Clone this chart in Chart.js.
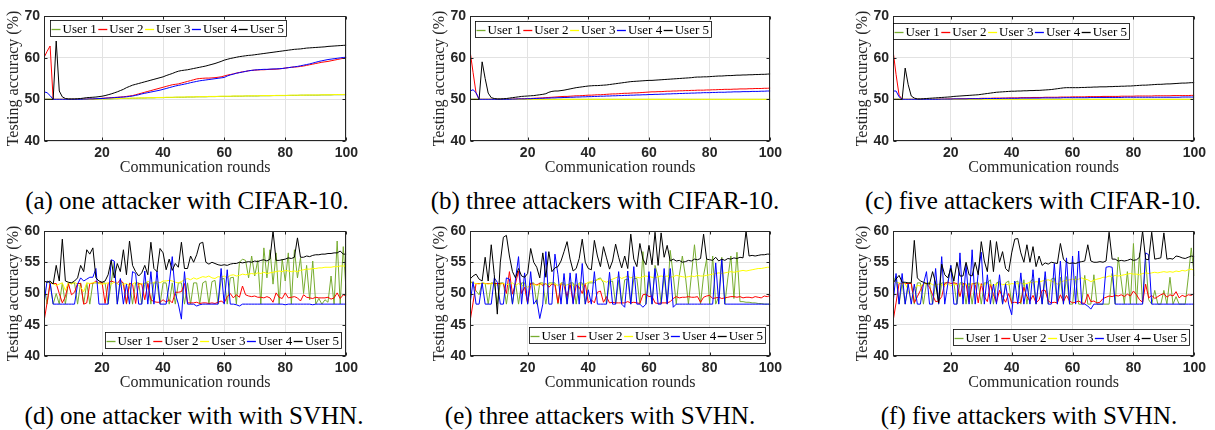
<!DOCTYPE html>
<html>
<head>
<meta charset="utf-8">
<script src="https://cdn.jsdelivr.net/npm/chart.js@4.4.1/dist/chart.umd.min.js"></script>
<style>
  body { margin: 0; background: #fff; width: 1215px; height: 430px; position: relative; overflow: hidden; }
  canvas { position: absolute; }
  .cap { position: absolute; font-family: 'Liberation Serif', serif; font-size: 25px; line-height: 25px; white-space: nowrap; transform: translateX(-50%); color: #000; }
</style>
</head>
<body>
<canvas id="chA" width="362" height="180" style="left:0;top:0"></canvas>
<canvas id="chB" width="360" height="180" style="left:426px;top:0"></canvas>
<canvas id="chC" width="361" height="180" style="left:849px;top:0"></canvas>
<canvas id="chD" width="362" height="180" style="left:0;top:215px"></canvas>
<canvas id="chE" width="360" height="180" style="left:426px;top:215px"></canvas>
<canvas id="chF" width="361" height="180" style="left:849px;top:215px"></canvas>
<div class="cap" style="left:187px;top:188px">(a) one attacker with CIFAR-10.</div>
<div class="cap" style="left:605px;top:188px">(b) three attackers with CIFAR-10.</div>
<div class="cap" style="left:1033px;top:188px">(c) five attackers with CIFAR-10.</div>
<div class="cap" style="left:194px;top:403px">(d) one attacker with with SVHN.</div>
<div class="cap" style="left:600px;top:403px">(e) three attackers with SVHN.</div>
<div class="cap" style="left:1029px;top:403px">(f) five attackers with SVHN.</div>
<script>
// communication rounds 1..100
const rounds = Array.from({ length: 100 }, (_, i) => i + 1);
const roundTicks = [20, 40, 60, 80, 100];
const cifarTicks = [40, 50, 60, 70];
const svhnTicks = [40, 45, 50, 55, 60];
const userNames = ['User 1', 'User 2', 'User 3', 'User 4', 'User 5'];
const userColors = ['#77ac30', '#ff0000', '#ffff00', '#0000ff', '#000000'];

// (a) one attacker, CIFAR-10
const cifarOneU1 = [
  50,50,50,50,50,50,50,50,50,50,
  50,50,50,50,50,50,50,50.05,50.05,50.1,
  50.1,50.1,50.1,50.15,50.15,50.2,50.2,50.2,50.2,50.25,
  50.25,50.3,50.3,50.3,50.35,50.35,50.35,50.4,50.4,50.4,
  50.45,50.45,50.45,50.5,50.5,50.5,50.5,50.55,50.55,50.55,
  50.6,50.6,50.6,50.6,50.65,50.65,50.65,50.7,50.7,50.7,
  50.7,50.7,50.75,50.75,50.75,50.75,50.8,50.8,50.8,50.8,
  50.8,50.85,50.85,50.85,50.85,50.9,50.9,50.9,50.9,50.9,
  50.95,50.95,50.95,50.95,51,51,51,51,51,51,
  51,51.05,51.05,51.05,51.05,51.1,51.1,51.1,51.1,51.1];
const cifarOneU2 = [
  60,61.5,62.8,50,50,50,50,50,50,50,
  50,50,50,50.05,50.05,50.1,50.1,50.15,50.2,50.25,
  50.3,50.35,50.4,50.45,50.5,50.55,50.6,50.7,50.8,50.9,
  51.1,51.3,51.5,51.7,51.9,52.1,52.3,52.5,52.7,52.9,
  53.1,53.3,53.5,53.6,53.7,53.9,54.1,54.3,54.5,54.7,
  54.9,55,55.05,55.1,55.1,55.15,55.2,55.3,55.4,55.6,
  55.8,55.95,56.1,56.3,56.45,56.6,56.7,56.85,56.95,57,
  57.05,57.1,57.1,57.15,57.2,57.2,57.25,57.3,57.4,57.5,
  57.6,57.7,57.75,57.8,57.9,58,58.15,58.3,58.45,58.6,
  58.75,58.9,59,59.1,59.25,59.4,59.55,59.7,59.85,60];
const cifarOneU3 = [
  50,50,50,50,50,50,50,50,50,50,
  50,50,50,50,50,50,50.05,50.05,50.1,50.1,
  50.1,50.15,50.15,50.2,50.2,50.2,50.25,50.25,50.3,50.3,
  50.3,50.35,50.35,50.35,50.4,50.4,50.4,50.45,50.45,50.45,
  50.5,50.5,50.5,50.5,50.55,50.55,50.55,50.6,50.6,50.6,
  50.6,50.65,50.65,50.65,50.7,50.7,50.7,50.7,50.75,50.75,
  50.75,50.75,50.8,50.8,50.8,50.8,50.8,50.85,50.85,50.85,
  50.85,50.9,50.9,50.9,50.9,50.9,50.95,50.95,50.95,50.95,
  50.95,51,51,51,51,51,51.05,51.05,51.05,51.05,
  51.05,51.1,51.1,51.1,51.1,51.15,51.15,51.15,51.15,51.2];
const cifarOneU4 = [
  51.8,51.6,50.9,50,50,50,50,50,50,50,
  50,50,50,50.05,50.05,50.1,50.1,50.15,50.2,50.2,
  50.25,50.3,50.35,50.4,50.45,50.5,50.55,50.6,50.7,50.8,
  50.95,51.1,51.3,51.45,51.6,51.75,51.9,52.05,52.2,52.4,
  52.6,52.8,53,53.2,53.35,53.5,53.65,53.8,54,54.15,
  54.3,54.45,54.55,54.65,54.75,54.85,54.95,55.05,55.15,55.25,
  55.6,55.85,56.05,56.25,56.4,56.55,56.7,56.85,56.95,57.05,
  57.1,57.15,57.2,57.2,57.25,57.3,57.3,57.35,57.4,57.5,
  57.6,57.7,57.8,57.9,58.05,58.2,58.35,58.5,58.7,58.9,
  59.1,59.25,59.4,59.55,59.65,59.75,59.85,59.95,60.05,60.1];
const cifarOneU5 = [
  50,50,50,50,64,52,50.6,50.2,50.1,50.1,
  50.1,50.15,50.2,50.3,50.4,50.45,50.5,50.55,50.65,50.75,
  50.9,51.1,51.3,51.55,51.8,52.1,52.4,52.8,53.1,53.4,
  53.6,53.8,54,54.2,54.4,54.6,54.8,55,55.2,55.4,
  55.7,55.95,56.2,56.5,56.75,56.9,57,57.1,57.25,57.4,
  57.55,57.7,57.85,58,58.2,58.4,58.6,58.85,59.1,59.4,
  59.6,59.8,59.95,60.1,60.25,60.35,60.45,60.55,60.6,60.7,
  60.8,60.9,61,61.1,61.2,61.3,61.4,61.5,61.6,61.7,
  61.8,61.9,62,62.05,62.1,62.2,62.3,62.35,62.4,62.45,
  62.5,62.55,62.6,62.7,62.75,62.8,62.85,62.9,62.95,63];

// (b) three attackers, CIFAR-10
const cifarThreeU1 = [
  50,50,50,50,50,50,50,50,50,50, 50,50,50,50,50,50,50,50,50,50,
  50,50,50,50,50,50,50,50,50,50, 50,50,50,50,50,50,50,50,50,50,
  50,50,50,50,50,50,50,50,50,50, 50,50,50,50,50,50,50,50,50,50,
  50,50,50,50,50,50,50,50,50,50, 50,50,50,50,50,50,50,50,50,50,
  50,50,50,50,50,50,50,50,50,50, 50,50,50,50,50,50,50,50,50,50];
const cifarThreeU2 = [
  61.7,56.5,51.5,50,50,50,50,50,50,50,
  50,50,50,50.05,50.05,50.1,50.1,50.15,50.15,50.2,
  50.2,50.25,50.3,50.3,50.35,50.4,50.45,50.5,50.55,50.6,
  50.65,50.7,50.7,50.75,50.8,50.85,50.85,50.9,50.95,51,
  51,51.05,51.1,51.1,51.15,51.2,51.25,51.3,51.3,51.35,
  51.4,51.45,51.45,51.5,51.55,51.55,51.6,51.65,51.7,51.75,
  51.8,51.8,51.85,51.85,51.9,51.95,51.95,52,52,52.05,
  52.05,52.1,52.1,52.15,52.15,52.2,52.2,52.2,52.25,52.25,
  52.3,52.3,52.35,52.35,52.4,52.4,52.4,52.45,52.45,52.5,
  52.5,52.5,52.55,52.55,52.6,52.6,52.6,52.65,52.65,52.7];
const cifarThreeU3 = [
  50,50,50,50,50,50,50,50,50,50, 50,50,50,50,50,50,50,50,50,50,
  50,50,50,50,50,50,50,50,50,50, 50,50,50,50,50,50,50,50,50,50,
  50,50,50,50,50,50,50,50,50,50, 50,50,50,50,50,50,50,50,50,50,
  50,50,50,50,50,50,50,50,50,50, 50,50,50,50,50,50,50,50,50,50,
  50,50,50,50,50,50,50,50,50,50, 50,50,50,50,50,50,50,50,50,50];
const cifarThreeU4 = [
  52,52.3,51.6,50,50,50,50,50,50,50,
  50,50,50,50,50.05,50.05,50.1,50.1,50.1,50.15,
  50.15,50.2,50.2,50.25,50.25,50.3,50.3,50.35,50.35,50.4,
  50.4,50.45,50.45,50.5,50.5,50.55,50.55,50.6,50.6,50.65,
  50.65,50.7,50.7,50.75,50.75,50.8,50.8,50.85,50.85,50.9,
  50.9,50.95,50.95,51,51,51.05,51.05,51.1,51.1,51.15,
  51.15,51.2,51.2,51.25,51.25,51.3,51.3,51.35,51.35,51.4,
  51.4,51.45,51.45,51.5,51.5,51.55,51.55,51.6,51.6,51.6,
  51.65,51.65,51.7,51.7,51.7,51.75,51.75,51.8,51.8,51.8,
  51.85,51.85,51.85,51.9,51.9,51.9,51.95,51.95,52,52];
const cifarThreeU5 = [
  50,50,50,50,59,55,51.5,50.4,50.2,50.1,
  50.1,50.15,50.2,50.3,50.4,50.5,50.6,50.7,50.75,50.8,
  50.85,50.9,51,51.1,51.2,51.35,51.7,51.9,52,52,
  52.1,52.2,52.35,52.5,52.65,52.8,52.9,53,53.1,53.2,
  53.25,53.3,53.3,53.35,53.4,53.45,53.55,53.65,53.75,53.85,
  53.95,54.05,54.15,54.25,54.3,54.35,54.4,54.45,54.5,54.55,
  54.55,54.6,54.65,54.7,54.75,54.8,54.85,54.9,54.95,55,
  55.05,55.1,55.15,55.2,55.3,55.35,55.35,55.4,55.4,55.45,
  55.5,55.55,55.6,55.6,55.65,55.7,55.7,55.75,55.8,55.8,
  55.85,55.85,55.9,55.9,55.95,55.95,56,56,56.05,56.1];

// (c) five attackers, CIFAR-10
const cifarFiveU1 = [
  50,50,50,50,50,50,50,50,50,50, 50,50,50,50,50,50,50,50,50,50,
  50,50,50,50,50,50,50,50,50,50, 50,50,50,50,50,50,50,50,50,50,
  50,50,50,50,50,50,50,50,50,50, 50,50,50,50,50,50,50,50,50,50,
  50,50,50,50,50,50,50,50,50,50, 50,50,50,50,50,50,50,50,50,50,
  50,50,50,50,50,50,50,50,50,50, 50,50,50,50,50,50,50,50,50,50];
const cifarFiveU2 = [
  61.8,56,51,50,50,50,50,50,50,50,
  50,50,50,50,50,50.05,50.05,50.05,50.1,50.1,
  50.1,50.1,50.15,50.15,50.15,50.2,50.2,50.2,50.2,50.25,
  50.25,50.25,50.25,50.3,50.3,50.3,50.3,50.3,50.35,50.35,
  50.35,50.35,50.4,50.4,50.4,50.4,50.45,50.45,50.45,50.45,
  50.5,50.5,50.5,50.5,50.5,50.55,50.55,50.55,50.55,50.6,
  50.6,50.6,50.6,50.6,50.65,50.65,50.65,50.65,50.65,50.7,
  50.7,50.7,50.7,50.7,50.7,50.75,50.75,50.75,50.75,50.75,
  50.8,50.8,50.8,50.8,50.8,50.8,50.85,50.85,50.85,50.85,
  50.85,50.85,50.9,50.9,50.9,50.9,50.9,50.9,50.95,50.95];
const cifarFiveU3 = [
  50,50,50,50,50,50,50,50,50,50, 50,50,50,50,50,50,50,50,50,50,
  50,50,50,50,50,50,50,50,50,50, 50,50,50,50,50,50,50,50,50,50,
  50,50,50,50,50,50,50,50,50,50, 50,50,50,50,50,50,50,50,50,50,
  50,50,50,50,50,50,50,50,50,50, 50,50,50,50,50,50,50,50,50,50,
  50,50,50,50,50,50,50,50,50,50, 50,50,50,50,50,50,50,50,50,50];
const cifarFiveU4 = [
  52,52,50.6,50,50,50,50,50,50,50,
  50,50,50,50,50,50,50.05,50.05,50.05,50.05,
  50.1,50.1,50.1,50.1,50.1,50.15,50.15,50.15,50.15,50.15,
  50.2,50.2,50.2,50.2,50.2,50.2,50.25,50.25,50.25,50.25,
  50.25,50.25,50.3,50.3,50.3,50.3,50.3,50.3,50.3,50.35,
  50.35,50.35,50.35,50.35,50.35,50.35,50.4,50.4,50.4,50.4,
  50.4,50.4,50.4,50.4,50.4,50.45,50.45,50.45,50.45,50.45,
  50.45,50.45,50.45,50.45,50.45,50.45,50.5,50.5,50.5,50.5,
  50.5,50.5,50.5,50.5,50.5,50.5,50.5,50.5,50.5,50.5,
  50.5,50.5,50.5,50.5,50.5,50.55,50.55,50.55,50.55,50.55];
const cifarFiveU5 = [
  50,50,50,50,57.5,53.5,50.8,50.3,50.1,50.1,
  50.15,50.2,50.25,50.3,50.35,50.4,50.45,50.5,50.55,50.6,
  50.7,50.75,50.8,50.85,50.9,50.95,51,51.05,51.1,51.2,
  51.3,51.4,51.5,51.6,51.7,51.75,51.8,51.85,51.9,51.95,
  51.95,52,52,52.05,52.05,52.1,52.1,52.15,52.15,52.2,
  52.25,52.3,52.35,52.45,52.55,52.65,52.75,52.8,52.8,52.8,
  52.8,52.8,52.85,52.85,52.9,52.9,52.95,52.95,53,53,
  53,53.05,53.05,53.1,53.1,53.15,53.15,53.2,53.2,53.25,
  53.3,53.35,53.4,53.4,53.45,53.5,53.55,53.6,53.6,53.65,
  53.7,53.7,53.75,53.8,53.85,53.9,53.9,53.95,54,54];

// (d) one attacker, SVHN
const svhnOneU1 = [
  51.8,48.3,51.8,48.3,50,48.3,51.7,48.3,51.7,51.7,
  51.7,48.3,51.7,48.3,51.7,48.3,51.7,51.7,51.7,51.7,
  51.7,48.3,51.7,55,48.3,51.7,51.7,48.3,51.7,48.3,
  51.7,51.7,48.3,51.7,51.7,48.3,51.7,51.7,48.3,51.7,
  51.7,48.3,51.7,48.3,51.7,51.7,48.3,51.7,48.3,51.7,
  51.7,48.3,51.7,52,48.3,51.9,52.1,48.3,52.3,52.4,
  48.3,52.5,52.6,48.3,55,55.5,55.3,52.5,56,52.8,
  55.3,48.3,57.3,52.5,57,51.5,56.5,48.3,55.5,52,
  56.5,48.3,57,52.5,55.7,50,54.5,49,55.2,48.3,
  49.2,48.3,49,48.6,52.8,48.3,58.4,48.3,57.5,49.7];
const svhnOneU2 = [
  45.5,48.5,51.6,51.6,51.6,50,48.5,49.5,51.6,49.8,
  50.2,51.6,51.6,48.3,48.5,51.6,51.6,52,51.6,51.8,
  48.4,51.6,52,51.8,51.6,52.2,51.6,48.4,51.6,51.5,
  48.4,51.6,51.5,49,51.6,49,48.7,48.6,48.6,49,
  48.6,49,48.5,50.2,50.2,50.3,51.6,48.5,48.5,48.5,
  48.6,48.4,48.5,48.5,48.4,48.5,48.4,48.6,48.8,48.5,
  49.5,50,49.3,49.8,49.4,51.2,49.8,49.6,49.5,49.6,
  49.4,49.4,49.3,49.5,49.3,48.6,50.1,49.4,49.2,50.1,
  49.3,49.4,49.5,49.3,48.8,49.8,49.4,49.3,49.2,49.4,
  49.3,49.3,49.3,49.4,49.1,49.3,50.1,49.2,49.8,49.6];
const svhnOneU3 = [
  52,51.8,51.7,51.6,51.3,51.5,51.7,50.5,51.8,51.5,
  51.8,51.5,51,50.3,51.7,51.6,51.7,51.8,51.6,51.5,
  51.6,51.7,51.5,51.8,51.6,51.2,51.5,51.6,51.2,51.5,
  51.8,51.3,51.6,51.4,52,51.6,51.8,51.9,51.7,52,
  52,52.1,52,51.8,51.7,51.9,52.2,52.4,52.2,52.5,
  52.3,52.5,52.7,52.6,52.8,52.5,52.4,52.7,52.6,52.8,
  52.5,52.9,53,52.8,52.9,53.1,53,53.1,53.2,53.1,
  53.3,53.2,53.4,53.2,53.3,53.4,53.5,53.6,53.5,53.7,
  53.6,53.5,53.6,53.5,53.7,53.8,53.9,53.9,54,54,
  54.1,54.1,54.2,54.2,54.2,54.3,54.3,54.4,54.4,54.4];
const svhnOneU4 = [
  48.3,52,51.7,48.3,48.3,48.3,48.3,48.3,48.3,48.3,
  48.3,51.5,52.5,52,52.3,52.6,52.6,54,48.3,48.3,
  48.3,48.3,55.4,55.2,48.3,52.4,48.3,51.5,48.3,53.5,
  53.2,48.3,48.3,53.6,48.3,53.5,48.3,53.6,48.3,48.3,
  48.3,51.5,55.9,50,48.3,45.9,53.5,48.3,48.3,48.3,
  48,48.2,48.3,48.3,48.3,48.3,48.3,48.3,54,48.3,
  53.8,48.3,48.3,48.2,48,48.3,48.3,48.3,48.3,48.3,
  48.3,48.3,48.3,48.3,48.3,48.3,48.3,48.3,48.3,48.2,
  48.3,48.3,48.3,48.3,48.3,48.3,48.3,48.3,48.2,48.3,
  48.3,48.3,48.3,48.3,48.3,48.3,48.3,48.3,48.3,48.3];
const svhnOneU5 = [
  52,51.8,52,51.5,54.5,52,58.7,52,51.8,51.7,
  52,52.5,54.5,53.5,57,56.3,57.3,52.5,52,51.8,
  52,53,55.3,52.5,54.8,53.5,57,53,58.4,54.5,
  53.5,52.8,53.3,54.5,53,58.2,54,53.5,57.2,56.5,
  53.8,55.5,53.7,54.8,54.2,58.2,54,54,56,55,
  56.2,58,58.2,55,54.7,55,54.8,54.6,54.5,54.6,
  54.5,54.7,54.8,54.8,55,54.9,55,55.1,55,55.2,
  55.1,55.3,55.4,55.2,55.5,60,55.3,55.3,55.4,55.5,
  55.7,55.6,55.8,58.9,55.8,55.8,56,55.9,56.1,56.2,
  56.2,56.3,56.3,56.4,56.4,56.5,56.5,56.8,56.3,56.3];

// (e) three attackers, SVHN
const svhnThreeU1 = [
  52,51.5,50.4,49.8,51.7,51.6,48.3,51.7,51.7,48.3,
  51.7,51.7,48.3,51.7,48.3,51.7,48.3,51.7,51.7,48.3,
  51.7,51.7,48.3,51.7,51.7,48.3,51.7,51.7,51.7,48.3,
  51.7,51.7,48.3,51.7,51.7,48.3,51.7,51.7,48.3,51.7,
  51.7,51.7,52.3,52.5,51.7,48.3,51.9,52,48.3,52.1,
  48.3,52.2,52.3,48.3,52.4,52.4,48.3,56.7,48.3,52.6,
  48.3,54.5,52.7,48.3,52.8,48.3,56.9,52.9,48.3,52.9,
  56,52.8,48.3,53,57.8,53,48.3,52.9,55.5,48.3,
  56,48.3,49.5,55.8,48.3,52.5,56,49.2,56.6,48.7,
  48.7,48.6,48.6,48.5,48.5,48.4,48.4,48.3,48.3,48.3];
const svhnThreeU2 = [
  45.5,48.5,51.6,51.6,51.6,51.6,51.6,51.6,51.6,51.6,
  51.6,51.6,50,53.5,49.9,51.6,53.6,50,51,48.5,
  51.6,51.5,51.4,51.6,51.3,51.6,51,51.5,51.4,48.5,
  51.6,51.3,49.5,51.6,48.5,51.3,51,50,51.6,48.5,
  49,48.5,50.2,50.4,48.6,49.5,48.5,48.6,48.5,48.5,
  48.5,48.5,48.7,48.5,48.6,48.5,48.4,49.8,49.9,49.5,
  49.6,48.5,48.4,48.5,48.5,48.5,48.7,49.2,49.5,49.3,
  49.4,49.4,49.5,49.4,49.4,49.5,48.6,49.4,49.6,49.7,
  49.2,49.3,49.4,49.2,49.3,49.4,49.5,49.5,49.4,49.5,
  49.3,49.4,49.4,49.3,49.5,49.4,49.3,49.6,49.5,49.7];
const svhnThreeU3 = [
  52,51.7,51.6,51.5,51.7,51.6,51.5,51.6,51.5,51.3,
  51.5,51.6,51.4,51.5,51.7,51.3,51.6,51.2,51.4,51,
  51.3,51.5,51.3,51.4,51.6,51.5,51.4,51.6,51.5,51.3,
  51.6,51.2,51.4,51.5,51.3,51.4,51.6,51.3,51.5,51.8,
  51.9,52.1,52.2,52.3,52,51.8,52.1,52.3,52.5,52.7,
  52.4,52.6,52.8,52.5,52.7,52.6,52.5,52.7,52.8,52.7,
  52.6,52.5,52.7,52.8,52.7,52.8,52.6,52.7,52.9,52.8,
  52.7,52.6,52.7,52.8,52.7,52.9,52.8,52.8,52.9,53,
  53.1,53.2,53.3,53.2,53.3,53.4,53.5,53.4,53.5,53.6,
  53.7,53.6,53.7,53.8,53.9,54,54,54.1,54.2,54.2];
const svhnThreeU4 = [
  48.3,51.9,48.3,48.3,51.7,48.3,48.3,48.3,52.5,51.8,
  48.3,48.3,52.5,52.3,48.3,52.3,55.9,48.3,53.3,48.3,
  53.5,48.3,49,46,48.3,56.7,48.3,48.3,56.3,53,
  48.3,53.2,48.3,53.3,48.3,53.2,48.3,54.8,48.3,50.6,
  48.3,53.5,48.3,48.3,48.3,48.3,53.4,48.3,48.3,53.5,
  48.3,47.8,53.6,48.3,54.3,48.3,48.3,47.8,48.3,53.5,
  48.3,54,48.3,48.3,54,48.3,54,47.8,48.3,48.3,
  48.3,48.3,48.3,48.3,48.3,48.3,48.3,48.3,48.3,48.3,
  48.3,54.9,48.3,55.5,48.3,48.3,48.3,48.3,48.3,48.3,
  48.3,48.3,48.3,48.3,48.3,48.3,48.3,48.3,48.3,48.3];
const svhnThreeU5 = [
  52.3,52.8,53.1,52.3,52,55.8,52,57.8,53,46.7,
  55,59,59.3,56,53.5,52.5,54,52.8,52.6,53.2,
  57.2,55,54.2,52.5,56.5,52.6,56.7,53.5,54.1,54.3,
  55.2,56.7,58.3,55.5,53.6,54,55.6,58.7,55,54,
  53.8,58.5,56,54.3,57.5,55.7,53.9,55.2,57.9,55.8,
  54.1,56,54,59.5,55.5,54.3,58,55.5,54.6,57.7,
  54.6,59.8,54.5,59.7,55.8,57.7,55.2,55.5,55.2,55.3,
  55,55.1,55.3,55.2,55.5,55.4,55.6,59.5,55.5,55.4,
  55.3,55.8,55.2,55.5,55.3,55.6,55.5,55.7,55.6,55.8,
  55.7,60,56,56.1,56,56.1,56.2,56.2,56.3,56.3];

// (f) five attackers, SVHN
const svhnFiveU1 = [
  51.8,52.8,48.3,51.7,48.3,51.7,51.7,48.3,51.7,51.7,
  48.3,51.7,51.7,48.3,51.7,48.3,51.7,51.7,51.7,54.5,
  51.7,48.3,51.7,51.7,48.3,51.7,48.3,51.7,51.7,48.3,
  51.7,51.7,52.2,48.3,51.7,51.9,48.3,51.7,52,48.3,
  51.7,52,48.3,52.2,48.3,51.9,52.3,48.3,52.4,48.3,
  52.5,48.3,52.3,52.5,48.3,52.6,48.3,52.7,48.3,48.3,
  52.8,48.3,48.3,52.9,48.3,48.3,53,48.3,48.3,48.3,
  48.3,48.3,53.2,48.3,55.8,52,48.3,53.5,48.3,58,
  48.3,56.5,48.3,55.5,49,48.3,50.5,48.3,48.3,50.5,
  48.3,52.6,48.3,49.5,48.3,48.3,48.3,52.5,57.3,52.8];
const svhnFiveU2 = [
  45.5,48.5,51.6,51.6,51.6,51.6,51.6,48.5,49.5,50.5,
  51.6,51.6,51,49.8,48.7,48.8,49.5,51.6,51.8,51.6,
  51.7,51.6,49.5,51.6,51.5,48.6,51.6,51.6,48.5,51.6,
  49.5,48.7,51.5,49.8,48.6,50.5,49.5,48.6,50,48.5,
  48.6,48.5,48.6,51,49.5,48.8,49.7,48.5,49,50.5,
  50.5,48.8,48.5,48.6,48.5,49.8,48.7,49.7,48.8,48.5,
  48.6,48.8,48.5,48.4,49.9,48.7,48.8,48.5,48.6,49.2,
  49.4,49.6,49.5,49.7,49.6,49.8,49.5,49.9,49.6,50.4,
  49.8,49,48.6,51.5,49.3,49.7,49.2,49.5,49.8,50,
  49.4,49.8,49.6,50.3,49.3,49.7,49.5,49.8,49.7,50];
const svhnFiveU3 = [
  52,51.8,51.7,51.5,51.6,50.5,49,50.8,51.3,51.2,
  51.5,51.6,51.7,51.4,51.3,51.5,51.4,51.3,51.6,51.2,
  51.5,51.4,51.6,51.3,51.5,51.2,51.6,51.4,51.7,51.3,
  51.5,51.6,51.4,51.3,51.5,51.7,51.4,51.5,51.4,51.6,
  51.5,51.6,51.7,51.5,51.6,51.8,51.7,51.9,51.8,52,
  52.1,52.2,52,51.8,51.5,51.8,52,52.1,52.2,52.3,
  52.2,52.3,52.5,52.3,52.2,51.9,52.1,52.3,52.4,52.6,
  52.6,52.8,52.7,52.9,52.8,52.9,53,53.1,53.2,53.1,
  53.1,53,53.2,53.3,53.2,53.3,53.4,53.3,53.4,53.5,
  53.4,53.5,53.4,53.6,53.5,53.7,53.6,53.8,53.9,53.7];
const svhnFiveU4 = [
  48.3,53.2,48.3,53.2,48.3,51.5,48.3,51.5,48.3,48.3,
  51.5,53.5,48.3,48.3,54,48.3,55.9,48.3,51.5,54.5,
  48.3,48.3,56.5,48.3,54.6,48.3,57,48.3,53.3,56.6,
  48.3,53,48.3,51.5,48.3,53,48.3,51.5,48.3,46.6,
  52,48.3,53.3,48.3,51.5,48.3,53.8,48.3,52.5,48.3,
  53.5,48.3,48.3,54.8,48.3,55.2,48.3,55.7,48.3,56,
  48.3,56.8,48.3,48.3,48,47.5,48.3,48.3,48.3,48.3,
  54.2,54.3,54.2,48.3,48.3,48.3,48.3,48.3,48.3,48.3,
  48.3,48.3,48.3,56.5,56.2,48.3,48.3,48.3,48.3,48.3,
  48.3,48.3,48.3,48.3,48.3,48.3,48.3,48.3,48.3,48.3];
const svhnFiveU5 = [
  51.7,52.3,52.9,51.8,51.8,51.7,51.7,58.5,52.5,52,
  51.8,51.6,51.5,53.5,51.7,48.5,54.7,53,52.5,54,
  52,55,52.8,52.8,55,53,52.8,55,53,58.3,
  55.2,53.5,58.5,53.5,58.3,55,56.7,54,53.5,56.5,
  58.7,58.8,56.5,55,57.8,55,57.5,54.3,56,54.5,
  54.9,54.7,55,54.9,54.8,58,55.5,55,54.8,54.9,
  54.8,55,55.1,55.2,57.8,55.2,55,55,55.1,55,
  55.2,59.8,55.5,55.5,55.2,55.3,55.2,55.3,55.5,55.3,
  55.4,55.8,60,55.5,55.4,59.8,55.5,55.6,55.7,59.7,
  55.5,55.6,55.5,56,55.9,55.7,55.6,55.8,56,55.9];

const serif = '"Liberation Serif", "Times New Roman", serif';
const sans = '"Liberation Sans", Arial, sans-serif';

// frame box, inward tick marks and the boxed legend
const frameLegend = {
  id: 'frameLegend',
  afterDraw(chart, args, opts) {
    const { ctx, chartArea: a, scales } = chart;
    ctx.save();
    const L = Math.round(a.left) + 0.5, R = Math.round(a.right) - 0.5;
    const T = Math.round(a.top) + 0.5, B = Math.round(a.bottom) - 0.5;
    ctx.strokeStyle = '#262626';
    ctx.lineWidth = 1;
    ctx.strokeRect(L, T, R - L, B - T);
    ctx.beginPath();
    scales.x.ticks.forEach(t => {
      const px = Math.round(scales.x.getPixelForValue(t.value)) + 0.5;
      ctx.moveTo(px, B); ctx.lineTo(px, B - 3);
      ctx.moveTo(px, T); ctx.lineTo(px, T + 3);
    });
    scales.y.ticks.forEach(t => {
      const py = Math.round(scales.y.getPixelForValue(t.value)) + 0.5;
      ctx.moveTo(L, py); ctx.lineTo(L + 3, py);
      ctx.moveTo(R, py); ctx.lineTo(R - 3, py);
    });
    ctx.stroke();

    // legend
    ctx.font = '13px ' + serif;
    const sets = chart.data.datasets;
    const tw = sets.map(d => ctx.measureText(d.label).width);
    let w = 2;
    tw.forEach(t => { w += 11 + t + 1.5; });
    const h = 16;
    let x0, y0;
    if (opts.corner === 'tl') { x0 = a.left + opts.dx; y0 = a.top + opts.dy; }
    else { x0 = a.right - opts.dx - w; y0 = a.bottom - opts.dy - h; }
    x0 = Math.round(x0) + 0.5; y0 = Math.round(y0) + 0.5;
    ctx.fillStyle = '#fff';
    ctx.fillRect(x0, y0, w, h);
    ctx.strokeStyle = '#000';
    ctx.lineWidth = 0.8;
    ctx.strokeRect(x0, y0, w, h);
    const cy = Math.round(y0 + h / 2) + 0.5;
    let x = x0 + 1;
    sets.forEach((d, i) => {
      ctx.strokeStyle = d.borderColor;
      ctx.lineWidth = 1.3;
      ctx.beginPath();
      ctx.moveTo(x, cy); ctx.lineTo(x + 9, cy);
      ctx.stroke();
      ctx.fillStyle = '#000';
      ctx.textBaseline = 'middle';
      ctx.fillText(d.label, x + 11, cy);
      x += 11 + tw[i] + 1.5;
    });
    ctx.restore();
  }
};

function makeChart(id, series, yTicks, yMax, legendPos) {
  return new Chart(document.getElementById(id), {
    type: 'line',
    data: {
      datasets: series.map((vals, i) => ({
        label: userNames[i],
        data: vals.map((v, k) => ({ x: rounds[k], y: v })),
        borderColor: userColors[i],
        borderWidth: 1,
        pointRadius: 0,
        tension: 0,
        fill: false,
        order: 4 - i
      }))
    },
    options: {
      responsive: false,
      animation: false,
      devicePixelRatio: 1,
      layout: { padding: { left: 0, right: 13, top: 16, bottom: 0 } },
      plugins: {
        legend: { display: false },
        tooltip: { enabled: false },
        frameLegend: legendPos
      },
      scales: {
        x: {
          type: 'linear',
          min: 1,
          max: 100,
          afterBuildTicks: s => { s.ticks = roundTicks.map(v => ({ value: v })); },
          afterFit: s => { s.height = 39; },
          grid: { color: '#e2e2e2', drawTicks: false },
          border: { display: false },
          ticks: { padding: 4, color: '#262626', maxRotation: 0,
                   font: { family: sans, size: 14, weight: 'bold' } },
          title: { display: true, text: 'Communication rounds', color: '#262626',
                   padding: { top: 0, bottom: 2.4 },
                   font: { family: serif, size: 16 } }
        },
        y: {
          min: 40,
          max: yMax,
          afterBuildTicks: s => { s.ticks = yTicks.map(v => ({ value: v })); },
          afterFit: s => { s.width = 44; },
          grid: { color: '#e2e2e2', drawTicks: false },
          border: { display: false },
          ticks: { padding: 4, color: '#262626',
                   font: { family: sans, size: 14, weight: 'bold' } },
          title: { display: true, text: 'Testing accuracy (%)', color: '#262626',
                   padding: { top: 4.4, bottom: 0 },
                   font: { family: serif, size: 16 } }
        }
      }
    },
    plugins: [frameLegend]
  });
}

function drawAll() {
  makeChart('chA', [cifarOneU1, cifarOneU2, cifarOneU3, cifarOneU4, cifarOneU5], cifarTicks, 70, { corner: 'tl', dx: 6, dy: 4 });
  makeChart('chB', [cifarThreeU1, cifarThreeU2, cifarThreeU3, cifarThreeU4, cifarThreeU5], cifarTicks, 70, { corner: 'tl', dx: 5, dy: 5 });
  makeChart('chC', [cifarFiveU1, cifarFiveU2, cifarFiveU3, cifarFiveU4, cifarFiveU5], cifarTicks, 70, { corner: 'tl', dx: 0, dy: 7 });
  makeChart('chD', [svhnOneU1, svhnOneU2, svhnOneU3, svhnOneU4, svhnOneU5], svhnTicks, 60, { corner: 'br', dx: 5, dy: 8 });
  makeChart('chE', [svhnThreeU1, svhnThreeU2, svhnThreeU3, svhnThreeU4, svhnThreeU5], svhnTicks, 60, { corner: 'br', dx: 5, dy: 13 });
  makeChart('chF', [svhnFiveU1, svhnFiveU2, svhnFiveU3, svhnFiveU4, svhnFiveU5], svhnTicks, 60, { corner: 'br', dx: 5, dy: 11 });
}

// make sure the system fonts are ready before the canvases draw text
Promise.all([
  document.fonts.load('16px "Liberation Serif"'),
  document.fonts.load('bold 14px "Liberation Sans"')
]).then(drawAll, drawAll);
</script>
</body>
</html>
